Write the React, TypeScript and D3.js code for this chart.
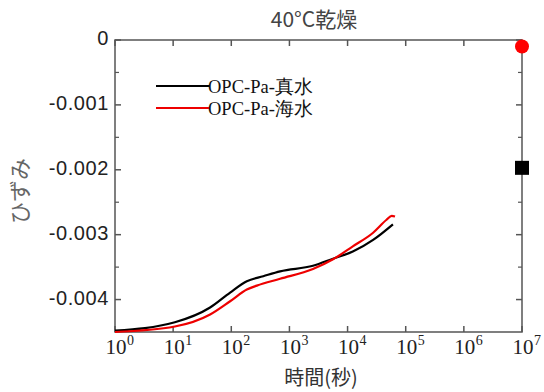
import React from "react";
import * as d3 from "d3";

const timesFresh = [1, 10.7, 43.2, 95.5, 185, 355, 692, 2540, 5620, 12300, 27500, 60300];
const strainFresh = [-0.00448, -0.00435, -0.004123, -0.003892, -0.003718, -0.003641, -0.003565, -0.00348, -0.00337, -0.00326, -0.00308, -0.00284];
const timesSea = [1, 10.7, 43.2, 95.5, 185, 275, 692, 2540, 5620, 12300, 27500, 46800, 57500, 65500];
const strainSea = [-0.0045, -0.004415, -0.00423, -0.004026, -0.003846, -0.003785, -0.00368, -0.00353, -0.00338, -0.00318, -0.00297, -0.00277, -0.00271, -0.00272];
const finalTime = [1e7, 1e7];
const finalStrain = [-0.0001, -0.00197];
const xTicks = [0, 1, 2, 3, 4, 5, 6, 7];
const yTicks = [0, -0.001, -0.002, -0.003, -0.004];
const yMinor = [-0.0005, -0.0015, -0.0025, -0.0035];
const seriesNames = ["OPC-Pa-真水", "OPC-Pa-海水"];

export default function App() {
  const L = 115, R = 522, T = 40, B = 332;
  const x = d3.scaleLog().domain([1, 1e7]).range([L, R]);
  const y = d3.scaleLinear().domain([-0.0045, 0]).range([B, T]);
  const line = d3.line<[number, number]>().x(d => x(d[0])).y(d => y(d[1])).curve(d3.curveMonotoneX);
  const fresh = timesFresh.map((t, i) => [t, strainFresh[i]] as [number, number]);
  const sea = timesSea.map((t, i) => [t, strainSea[i]] as [number, number]);
  const axisCol = "#555";
  const serif = "'Liberation Serif', 'Times New Roman', serif";
  const sans = "'Liberation Sans', Arial, sans-serif";
  const cjk = "'Noto Sans CJK JP', sans-serif";
  const tl = 6;
  return (
    <svg width={544} height={392} style={{ position: "absolute", left: 0, top: 0, background: "#fff" }}>
      <text x={314} y={27} textAnchor="middle" fontFamily={cjk} fontSize={21} fill="#444">40°C乾燥</text>
      <rect x={L} y={T} width={R - L} height={B - T} fill="none" stroke={axisCol} strokeWidth={1.5} />
      {xTicks.map(e => (
        <g key={"x" + e}>
          <line x1={x(10 ** e)} x2={x(10 ** e)} y1={B} y2={B - tl} stroke={axisCol} strokeWidth={1.5} />
          <line x1={x(10 ** e)} x2={x(10 ** e)} y1={T} y2={T + tl} stroke={axisCol} strokeWidth={1.5} />
          <text x={x(10 ** e) + 1} y={354} textAnchor="middle" fontFamily={serif} fontSize={21} fill="#222">10</text>
          <text x={x(10 ** e) + 12} y={345} fontFamily={serif} fontSize={14} fill="#222">{e}</text>
        </g>
      ))}
      {yTicks.map(v => (
        <g key={"y" + v}>
          <line x1={L} x2={L + tl} y1={y(v)} y2={y(v)} stroke={axisCol} strokeWidth={1.5} />
          <line x1={R} x2={R - tl} y1={y(v)} y2={y(v)} stroke={axisCol} strokeWidth={1.5} />
          <text x={109} y={y(v) + 5} textAnchor="end" fontFamily={sans} fontSize={20} letterSpacing={0.6} fill="#222">{v === 0 ? "0" : v.toFixed(3)}</text>
        </g>
      ))}
      {yMinor.map(v => (
        <g key={"m" + v}>
          <line x1={L} x2={L + 4} y1={y(v)} y2={y(v)} stroke={axisCol} strokeWidth={1.2} />
          <line x1={R} x2={R - 4} y1={y(v)} y2={y(v)} stroke={axisCol} strokeWidth={1.2} />
        </g>
      ))}
      <path d={line(fresh) || ""} fill="none" stroke="#000" strokeWidth={2.2} />
      <path d={line(sea) || ""} fill="none" stroke="#e00" strokeWidth={2.2} />
      <circle cx={x(finalTime[0])} cy={y(finalStrain[0])} r={7} fill="#f00" />
      <rect x={x(finalTime[1]) - 7} y={y(finalStrain[1]) - 7} width={14} height={14} fill="#000" />
      <line x1={156} x2={210} y1={86} y2={86} stroke="#000" strokeWidth={2} />
      <text x={208} y={93} fontFamily={serif} fontSize={18.5} fill="#111">{seriesNames[0]}</text>
      <line x1={156} x2={210} y1={108} y2={108} stroke="#e00" strokeWidth={2} />
      <text x={208} y={115} fontFamily={serif} fontSize={18.5} fill="#111">{seriesNames[1]}</text>
      <text transform="translate(28,191) rotate(-90)" textAnchor="middle" fontFamily={cjk} fontSize={22} fill="#666">ひずみ</text>
      <text x={321} y={385} textAnchor="middle" fontFamily={cjk} fontSize={20} fill="#333">時間(秒)</text>
    </svg>
  );
}
